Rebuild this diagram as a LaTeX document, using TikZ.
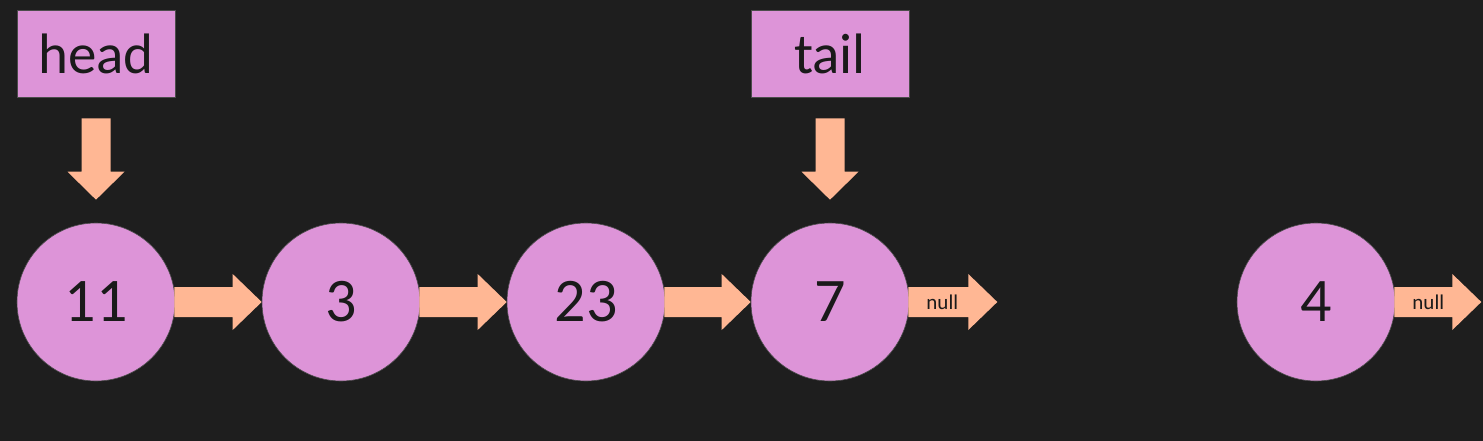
\documentclass[tikz,border=0pt]{standalone}
\usepackage{fontspec}
\setmainfont{Carlito}
\usetikzlibrary{calc}
\definecolor{bgc}{RGB}{30,30,30}
\definecolor{pinkc}{RGB}{221,148,216}
\definecolor{peachc}{RGB}{255,183,148}
\definecolor{txtc}{RGB}{26,26,26}
\tikzset{
  listnode/.style={circle, fill=pinkc, draw=black!70, line width=0.6pt, minimum size=158pt, inner sep=0pt,
    text=txtc, font=\fontsize{62}{62}\selectfont},
  ptrbox/.style={rectangle, fill=pinkc, draw=black!70, line width=0.6pt, minimum width=158pt, minimum height=87pt,
    inner sep=0pt, text=txtc, font=\fontsize{57}{57}\selectfont},
  blockarrow/.style={fill=peachc},
  nulltext/.style={text=txtc, font=\fontsize{21}{21}\selectfont, inner sep=0pt}
}
% horizontal block arrow from east of #1 to west of #2
\newcommand\harrowlink[2]{%
  \fill[blockarrow] ($(#1.east)+(-1,-15)$) -- ($(#2.west)+(-29,-15)$) -- ($(#2.west)+(-29,-28)$) -- (#2.west)
    -- ($(#2.west)+(-29,28)$) -- ($(#2.west)+(-29,15)$) -- ($(#1.east)+(-1,15)$) -- cycle;}
% vertical block arrow from #1 (top point) to #2 (tip point)
\newcommand\varrowlink[2]{%
  \fill[blockarrow] ($(#1)+(-14.5,0)$) -- ($(#2)+(-14.5,-28)$) -- ($(#2)+(-28.5,-28)$) -- (#2)
    -- ($(#2)+(28.5,-28)$) -- ($(#2)+(14.5,-28)$) -- ($(#1)+(14.5,0)$) -- cycle;}
\begin{document}
\begin{tikzpicture}[x=1pt,y=-1pt]
  \fill[bgc] (0,0) rectangle (1483,441);
  \useasboundingbox (0,0) rectangle (1483,441);

  % pointer boxes
  \node[ptrbox] (head) at (96,53.5) {head};
  \node[ptrbox] (tail) at (830,53.5) {tail};

  % list nodes
  \node[listnode] (n1) at (96,302) {11};
  \node[listnode] (n2) at (341,302) {3};
  \node[listnode] (n3) at (586,302) {23};
  \node[listnode] (n4) at (830,302) {7};
  \node[listnode] (n5) at (1316,302) {4};

  % free ends of null arrows
  \coordinate (null1) at ($(n4.east)+(88,0)$);
  \coordinate (null2) at ($(n5.east)+(86,0)$);

  % pointer arrows
  \coordinate (hs) at ($(head.south)+(0,21)$);
  \coordinate (ht) at ($(n1.north)+(0,-23)$);
  \coordinate (ts) at ($(tail.south)+(0,21)$);
  \coordinate (tt) at ($(n4.north)+(0,-23)$);
  \varrowlink{hs}{ht}
  \varrowlink{ts}{tt}

  % next arrows
  \harrowlink{n1}{n2}
  \harrowlink{n2}{n3}
  \harrowlink{n3}{n4}

  % null arrows
  \fill[blockarrow] ($(n4.east)+(-1,-15)$) -- ($(null1)+(-29,-15)$) -- ($(null1)+(-29,-28)$) -- (null1)
    -- ($(null1)+(-29,28)$) -- ($(null1)+(-29,15)$) -- ($(n4.east)+(-1,15)$) -- cycle;
  \fill[blockarrow] ($(n5.east)+(-1,-15)$) -- ($(null2)+(-29,-15)$) -- ($(null2)+(-29,-28)$) -- (null2)
    -- ($(null2)+(-29,28)$) -- ($(null2)+(-29,15)$) -- ($(n5.east)+(-1,15)$) -- cycle;
  \node[nulltext] (nl1) at ($(n4.east)+(33,0)$) {null};
  \node[nulltext] (nl2) at ($(n5.east)+(33,0)$) {null};
\end{tikzpicture}
\end{document}
